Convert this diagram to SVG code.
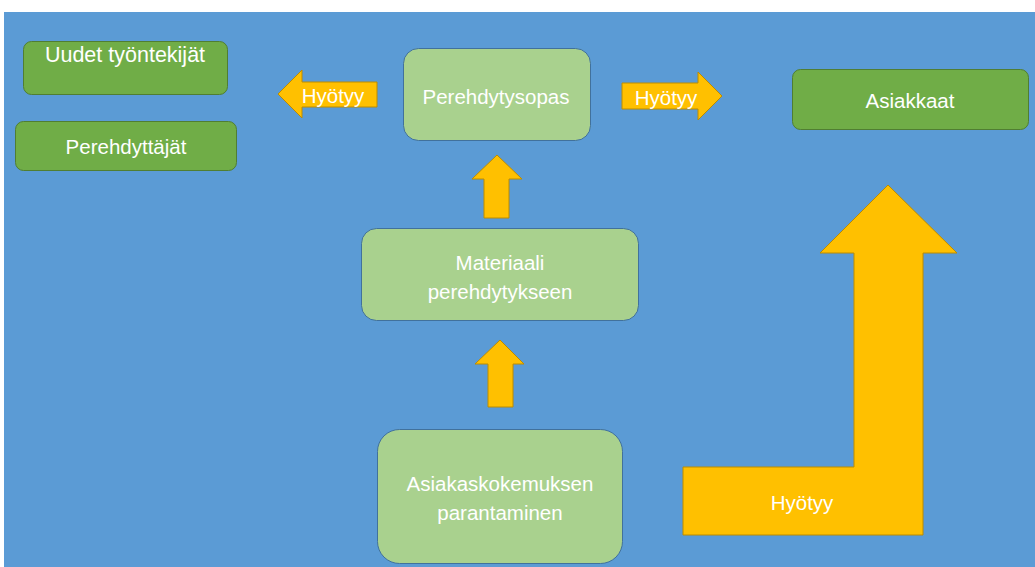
<svg xmlns="http://www.w3.org/2000/svg" width="1035" height="567" viewBox="0 0 1035 567">
<style>
.dark{fill:#70AD47;stroke:#507E32;stroke-width:1}
.light{fill:#A9D18E;stroke:#41719C;stroke-width:1}
.arrow{fill:#FFC000;stroke:#BC8C00;stroke-width:1}
text{font-family:"Liberation Sans",Arial,sans-serif;font-size:20.5px;fill:#FFFFFF;text-anchor:middle;dominant-baseline:central}
</style>
<rect x="0" y="0" width="1035" height="567" fill="#FFFFFF"/>
<rect x="4" y="12" width="1031" height="555" fill="#5B9BD5"/>
<g id="uudet">
<rect class="dark" x="23.5" y="41.5" width="204" height="53" rx="8"/>
<text x="125" y="55" style="font-size:21.5px">Uudet työntekijät</text>
</g>
<g id="perehdyttajat">
<rect class="dark" x="15.5" y="121.5" width="221" height="49" rx="8"/>
<text x="126" y="146">Perehdyttäjät</text>
</g>
<g id="perehdytysopas">
<rect class="light" x="403.5" y="48.5" width="187" height="92" rx="15"/>
<text x="496" y="96">Perehdytysopas</text>
</g>
<g id="asiakkaat">
<rect class="dark" x="792.5" y="69.5" width="236" height="60" rx="8"/>
<text x="910" y="100">Asiakkaat</text>
</g>
<g id="materiaali">
<rect class="light" x="361.5" y="228.5" width="277" height="92" rx="15"/>
<text x="500" y="262">Materiaali</text>
<text x="500" y="291">perehdytykseen</text>
</g>
<g id="asiakaskokemus">
<rect class="light" x="377.5" y="429.5" width="245" height="134" rx="22"/>
<text x="500" y="483">Asiakaskokemuksen</text>
<text x="500" y="512">parantaminen</text>
</g>
<g id="connectors">
<g id="arrow-left">
<polygon class="arrow" points="278,94 302,70 302,82 377,82 377,107 302,107 302,118"/>
<text x="333" y="95">Hyötyy</text>
</g>
<g id="arrow-right">
<polygon class="arrow" points="622,83 698,83 698,72 722,96 698,120 698,109 622,109"/>
<text x="666" y="97">Hyötyy</text>
</g>
<polygon id="arrow-up1" class="arrow" points="497,155 522,179 509,179 509,218 484,218 484,179 472,179"/>
<polygon id="arrow-up2" class="arrow" points="500,340 524,364 513,364 513,407 488,407 488,364 475,364"/>
<g id="arrow-bent">
<polygon class="arrow" points="683,467 854,467 854,253 820,253 888,185 957,253 923,253 923,535 683,535"/>
<text x="802" y="502">Hyötyy</text>
</g>
</g>
</svg>
